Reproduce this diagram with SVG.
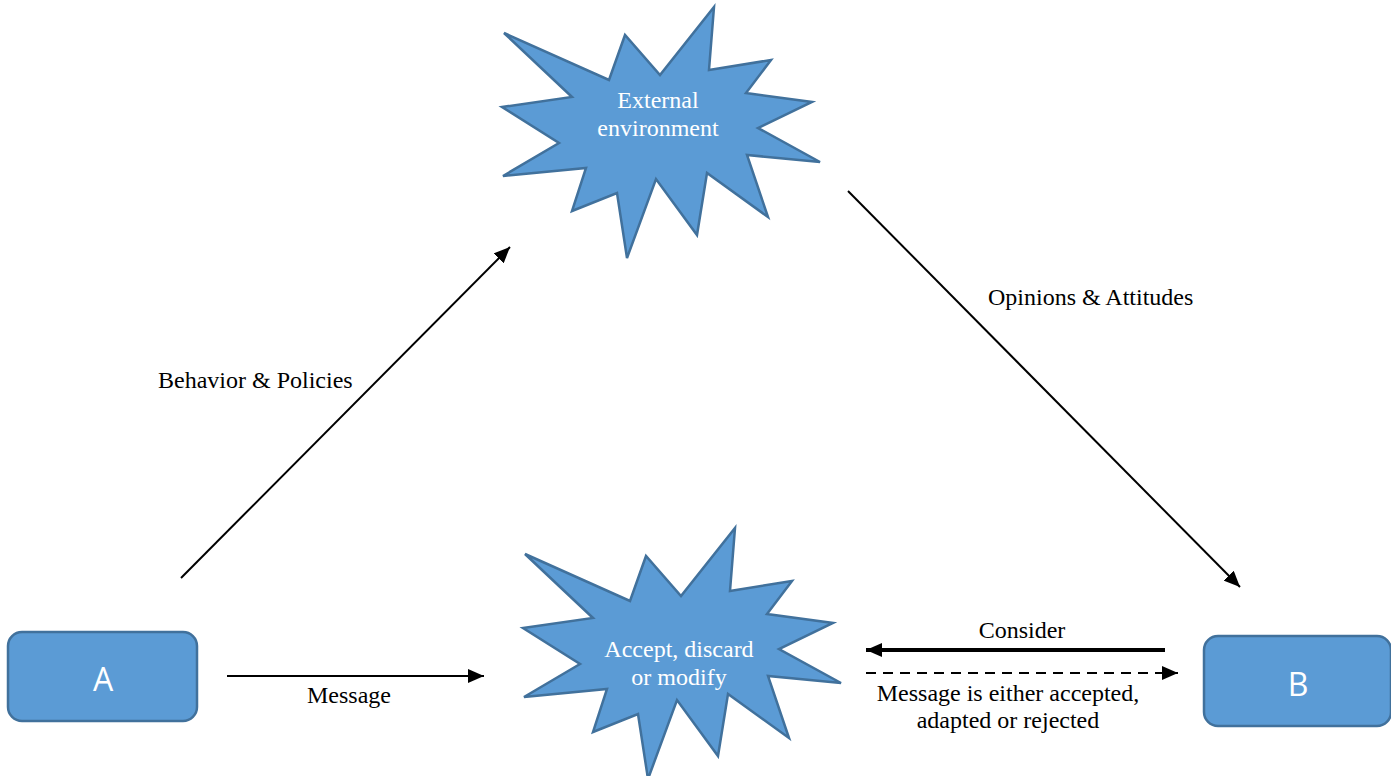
<svg xmlns="http://www.w3.org/2000/svg" xmlns:xlink="http://www.w3.org/1999/xlink" width="1391" height="776" viewBox="0 0 1391 776">
<style>
.star{fill:#5B9BD5;stroke:#41719C;stroke-width:2.5;stroke-linejoin:miter}
.box{fill:#5B9BD5;stroke:#41719C;stroke-width:2.5}
.lbl{font-family:"Liberation Serif","Times New Roman",serif;font-size:24px;fill:#000}
.wlbl{font-family:"Liberation Serif","Times New Roman",serif;font-size:24px;fill:#fff;text-anchor:middle}
.big{font-family:"Open Sans","Liberation Sans",Arial,sans-serif;font-size:32px;fill:#fff;text-anchor:middle}
.ln{stroke:#000;stroke-width:2;fill:none}
</style>
<defs>
<marker id="ah" markerUnits="userSpaceOnUse" markerWidth="18" markerHeight="14" refX="16" refY="7" orient="auto">
<path d="M0,0 L16,7 L0,14 Z" fill="#000"/>
</marker>
<path id="starshape" d="M504,33 L609,80 L625,35 L660,75 L714,7 L709,70 L771,60 L746,93 L812,102 L758,128 L820,162 L747,155 L768,217 L707,173 L697,235 L656,179 L627,258 L617,193 L572,211 L586,168 L503,176 L559,143 L502,107 L572,97 Z"/>
</defs>
<rect width="1391" height="776" fill="#fff"/>
<g id="ext">
<use xlink:href="#starshape" class="star"/>
<text class="wlbl" x="658" y="108">External</text>
<text class="wlbl" x="658" y="136">environment</text>
</g>
<g id="accept">
<use xlink:href="#starshape" class="star" transform="translate(21,521)"/>
<text class="wlbl" x="679" y="657">Accept, discard</text>
<text class="wlbl" x="679" y="685">or modify</text>
</g>
<g id="A">
<rect class="box" x="8" y="632" width="189" height="89" rx="14"/>
<text class="big" x="103" y="691">A</text>
</g>
<g id="B">
<rect class="box" x="1204" y="636" width="187" height="90" rx="14"/>
<text class="big" x="1298" y="696">B</text>
</g>
<g id="connectors">
<line class="ln" x1="181" y1="578" x2="510" y2="247" marker-end="url(#ah)"/>
<line class="ln" x1="848" y1="191" x2="1240" y2="587" marker-end="url(#ah)"/>
<line class="ln" x1="227" y1="676" x2="484" y2="676" marker-end="url(#ah)"/>
<line x1="1165" y1="650" x2="866" y2="650" stroke="#000" stroke-width="4" marker-end="url(#ah)"/>
<line class="ln" x1="866" y1="673" x2="1178" y2="673" stroke-dasharray="10,7" marker-end="url(#ah)"/>
<text class="lbl" x="158" y="388">Behavior &amp; Policies</text>
<text class="lbl" x="988" y="305">Opinions &amp; Attitudes</text>
<text class="lbl" x="349" y="703" text-anchor="middle">Message</text>
<text class="lbl" x="1022" y="638" text-anchor="middle">Consider</text>
<text class="lbl" x="1008" y="701" text-anchor="middle">Message is either accepted,</text>
<text class="lbl" x="1008" y="728" text-anchor="middle">adapted or rejected</text>
</g>
</svg>
